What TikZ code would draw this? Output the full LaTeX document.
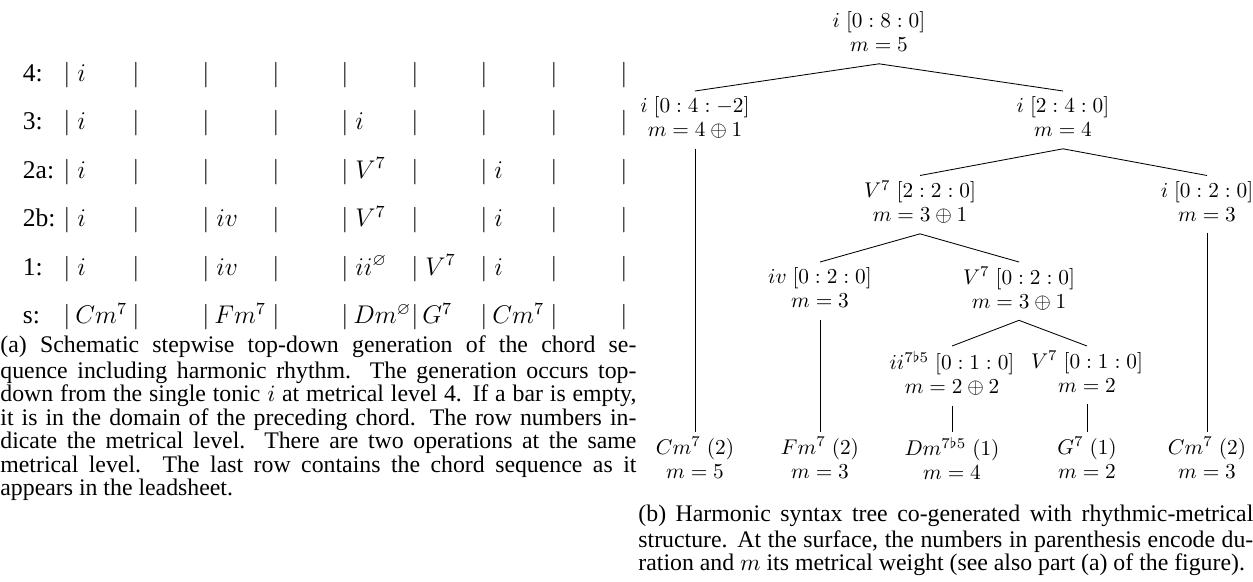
\documentclass[tikz,border=0pt]{standalone}
\usepackage{amssymb}
\usepackage[no-math]{fontspec}
\setmainfont{Liberation Serif}
\begin{document}
\begin{tikzpicture}[x=0.4695pt,y=-0.4695pt,
  tbl/.style={inner sep=0pt, font=\fontsize{12}{14}\selectfont},
  barnode/.style={tbl, anchor=base},
  chord/.style={tbl, anchor=base west},
  rowlabel/.style={tbl, anchor=base west},
  tn/.style={align=center, inner xsep=1pt, inner ysep=2.1pt, anchor=north,
    font=\fontsize{10}{11.27}\selectfont},
  tedge/.style={line width=0.4pt},
  captext/.style={anchor=north west, inner sep=0pt, align=justify,
    font=\fontsize{11.17}{11.03}\selectfont}]
\useasboundingbox (0,0) rectangle (1253,581);

% ---------- (a) table ----------
\foreach \r/\y/\l in {4/81/4:, 3/129.5/3:, 2a/178/2a:, 2b/226.5/2b:, 1/275/1:, s/323.5/s:} {
  \node[rowlabel] (lab-\r) at (22.5,\y) {\l};
  \foreach \c/\x in {1/67,2/136,3/206,4/276,5/345,6/415,7/484,8/554,9/624}
    \node[barnode] (bar-\r-\c) at (\x,\y) {$|$};
}
% row 4
\node[chord] (c-4-1) at (77,81) {$i$};
% row 3
\node[chord] (c-3-1) at (77,129.5) {$i$};
\node[chord] (c-3-5) at (355,129.5) {$i$};
% row 2a
\node[chord] (c-2a-1) at (77,178) {$i$};
\node[chord] (c-2a-5) at (355,178) {$V^7$};
\node[chord] (c-2a-7) at (494,178) {$i$};
% row 2b
\node[chord] (c-2b-1) at (77,226.5) {$i$};
\node[chord] (c-2b-3) at (216,226.5) {$iv$};
\node[chord] (c-2b-5) at (355,226.5) {$V^7$};
\node[chord] (c-2b-7) at (494,226.5) {$i$};
% row 1
\node[chord] (c-1-1) at (77,275) {$i$};
\node[chord] (c-1-3) at (216,275) {$iv$};
\node[chord] (c-1-5) at (355,275) {$ii^{\varnothing}$};
\node[chord] (c-1-6) at (425,275) {$V^7$};
\node[chord] (c-1-7) at (494,275) {$i$};
% row s
\node[chord] (c-s-1) at (75,323.5) {$Cm^7$};
\node[chord] (c-s-3) at (214,323.5) {$Fm^7$};
\node[chord] (c-s-5) at (353,323.5) {$Dm^{\varnothing}$};
\node[chord] (c-s-6) at (422,323.5) {$G^7$};
\node[chord] (c-s-7) at (492,323.5) {$Cm^7$};

\node[captext, text width=298.6pt] (capa) at (0,335.6) {\strut(a) Schematic stepwise top-down generation of the chord se-\linebreak quence including harmonic rhythm. The generation occurs top-\linebreak down from the single tonic $i$ at metrical level 4. If a bar is empty,\linebreak it is in the domain of the preceding chord. The row numbers in-\linebreak dicate the metrical level. There are two operations at the same\linebreak metrical level. The last row contains the chord sequence as it\linebreak appears in the leadsheet.};

% ---------- (b) tree ----------
\node[tn] (root) at (879,6) {$i\;[0:8:0]$\strut\\$m=5$\strut};
\node[tn] (l2a) at (695,91) {$i\;[0:4:-2]$\strut\\$m=4\oplus1$\strut};
\node[tn] (l2b) at (1063,91) {$i\;[2:4:0]$\strut\\$m=4$\strut};
\node[tn] (l3a) at (920,175.5) {$V^7\;[2:2:0]$\strut\\$m=3\oplus1$\strut};
\node[tn] (l3b) at (1207,175.5) {$i\;[0:2:0]$\strut\\$m=3$\strut};
\node[tn] (l4a) at (820,262) {$iv\;[0:2:0]$\strut\\$m=3$\strut};
\node[tn] (l4b) at (1019,262) {$V^7\;[0:2:0]$\strut\\$m=3\oplus1$\strut};
\node[tn] (l5a) at (952,346) {$ii^{7\flat5}\;[0:1:0]$\strut\\$m=2\oplus2$\strut};
\node[tn] (l5b) at (1087,346) {$V^7\;[0:1:0]$\strut\\$m=2$\strut};
\node[tn] (f1) at (695,432) {$Cm^7\;(2)$\strut\\$m=5$\strut};
\node[tn] (f2) at (820,432) {$Fm^7\;(2)$\strut\\$m=3$\strut};
\node[tn] (f3) at (952,432) {$Dm^{7\flat5}\;(1)$\strut\\$m=4$\strut};
\node[tn] (f4) at (1087,432) {$G^7\;(1)$\strut\\$m=2$\strut};
\node[tn] (f5) at (1207,432) {$Cm^7\;(2)$\strut\\$m=3$\strut};

\draw[tedge] (root.south) -- (l2a.north);
\draw[tedge] (root.south) -- (l2b.north);
\draw[tedge] (l2b.south) -- (l3a.north);
\draw[tedge] (l2b.south) -- (l3b.north);
\draw[tedge] (l3a.south) -- (l4a.north);
\draw[tedge] (l3a.south) -- (l4b.north);
\draw[tedge] (l4b.south) -- (l5a.north);
\draw[tedge] (l4b.south) -- (l5b.north);
\draw[tedge] (l2a.south) -- (f1.north);
\draw[tedge] (l4a.south) -- (f2.north);
\draw[tedge] (l5a.south) -- (f3.north);
\draw[tedge] (l5b.south) -- (f4.north);
\draw[tedge] (l3b.south) -- (f5.north);

\node[captext, text width=288.7pt] (capb) at (638,504.6) {\strut(b) Harmonic syntax tree co-generated with rhythmic-metrical\linebreak structure. At the surface, the numbers in parenthesis encode du-\linebreak ration and $m$ its metrical weight (see also part (a) of the figure).};
\end{tikzpicture}
\end{document}
